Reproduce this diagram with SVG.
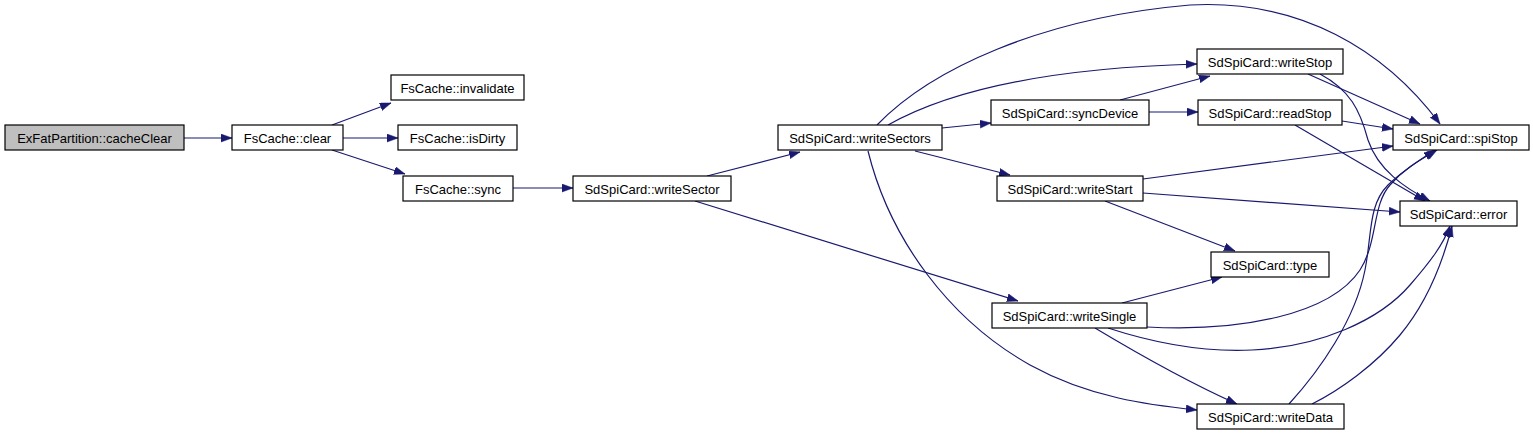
<svg xmlns="http://www.w3.org/2000/svg" width="1533" height="435" viewBox="0 0 1533 435">
<style>
.n rect{fill:#fff;stroke:#000;stroke-width:1.2}
.n.root rect{fill:#bfbfbf}
.n text{font-family:"Liberation Sans",Arial,sans-serif;font-size:13px;fill:#000;text-anchor:middle}
.e path{fill:none;stroke:#191970;stroke-width:1.2;marker-end:url(#ah)}
</style>
<defs>
<marker id="ah" markerUnits="userSpaceOnUse" markerWidth="12" markerHeight="9" refX="11" refY="4" orient="auto" viewBox="0 0 12 9">
<path d="M0,0 L11,4 L0,8 z" fill="#191970" stroke="#191970" stroke-width="0.5"/>
</marker>
</defs>
<g id="edges" class="e">
<path d="M184,138 L232,138"/>
<path d="M332,125 L391,103"/>
<path d="M343,138 L398,138"/>
<path d="M332,150 L405,174"/>
<path d="M513,188 L573,188"/>
<path d="M707,176 L800,152"/>
<path d="M695,201 L1018,301"/>
<path d="M877,125 C930,70 1040,18 1190,5 C1300,-1 1385,50 1440,124"/>
<path d="M888,125 C950,90 1050,68 1197,64"/>
<path d="M942,128 L991,123"/>
<path d="M915,151 L1010,175"/>
<path d="M868,151 C890,240 950,320 1030,365 C1090,398 1150,405 1197,410"/>
<path d="M1120,100 L1210,76"/>
<path d="M1149,112 L1198,112"/>
<path d="M1308,74 L1420,124"/>
<path d="M1320,74 C1350,90 1360,110 1368,140 C1378,170 1405,188 1430,201"/>
<path d="M1342,121 L1393,129"/>
<path d="M1295,125 L1425,201"/>
<path d="M1143,179 L1393,146"/>
<path d="M1143,193 L1400,212"/>
<path d="M1105,201 L1235,251"/>
<path d="M1122,303 L1222,277"/>
<path d="M1147,327 C1240,332 1330,315 1360,270 C1378,242 1372,205 1390,185 C1405,168 1420,160 1437,150"/>
<path d="M1289,404 C1320,370 1355,320 1365,270 C1372,235 1368,205 1388,185 C1403,170 1420,160 1435,150"/>
<path d="M1108,328 C1160,345 1210,352 1252,350 C1320,347 1380,320 1410,285 C1430,262 1443,245 1450,226"/>
<path d="M1095,328 C1140,355 1190,383 1237,404"/>
<path d="M1312,404 C1340,390 1375,365 1400,335 C1425,305 1442,265 1452,226"/>
</g>
<g id="cacheClear" class="n root"><rect x="5" y="125" width="179" height="25"/><text x="94.5" y="142.5">ExFatPartition::cacheClear</text></g>
<g id="clear" class="n"><rect x="232" y="125" width="111" height="25"/><text x="287.5" y="142.5">FsCache::clear</text></g>
<g id="invalidate" class="n"><rect x="391" y="75" width="133" height="25"/><text x="457.5" y="92.5">FsCache::invalidate</text></g>
<g id="isDirty" class="n"><rect x="398" y="125" width="119" height="25"/><text x="457.5" y="142.5">FsCache::isDirty</text></g>
<g id="sync" class="n"><rect x="403" y="176" width="110" height="25"/><text x="458" y="193.5">FsCache::sync</text></g>
<g id="writeSector" class="n"><rect x="573" y="176" width="158" height="25"/><text x="652" y="193.5">SdSpiCard::writeSector</text></g>
<g id="writeSectors" class="n"><rect x="778" y="125" width="164" height="25"/><text x="860" y="142.5">SdSpiCard::writeSectors</text></g>
<g id="writeStop" class="n"><rect x="1197" y="49" width="146" height="25"/><text x="1270" y="66.5">SdSpiCard::writeStop</text></g>
<g id="syncDevice" class="n"><rect x="991" y="100" width="158" height="25"/><text x="1070" y="117.5">SdSpiCard::syncDevice</text></g>
<g id="readStop" class="n"><rect x="1198" y="100" width="144" height="25"/><text x="1270" y="117.5">SdSpiCard::readStop</text></g>
<g id="spiStop" class="n"><rect x="1393" y="125" width="136" height="25"/><text x="1461" y="142.5">SdSpiCard::spiStop</text></g>
<g id="writeStart" class="n"><rect x="997" y="176" width="146" height="25"/><text x="1070" y="193.5">SdSpiCard::writeStart</text></g>
<g id="error" class="n"><rect x="1400" y="201" width="117" height="25"/><text x="1458.5" y="218.5">SdSpiCard::error</text></g>
<g id="type" class="n"><rect x="1211" y="252" width="118" height="25"/><text x="1270" y="269.5">SdSpiCard::type</text></g>
<g id="writeSingle" class="n"><rect x="992" y="303" width="155" height="25"/><text x="1069.5" y="320.5">SdSpiCard::writeSingle</text></g>
<g id="writeData" class="n"><rect x="1197" y="404" width="147" height="25"/><text x="1270.5" y="421.5">SdSpiCard::writeData</text></g>
</svg>
